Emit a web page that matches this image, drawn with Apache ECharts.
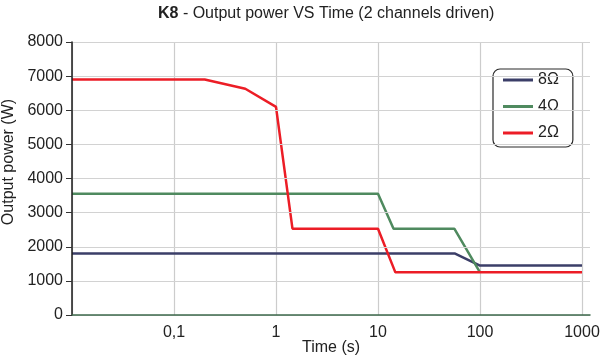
<!DOCTYPE html>
<html>
<head>
<meta charset="utf-8">
<script src="https://cdn.jsdelivr.net/npm/echarts@6/dist/echarts.min.js"></script>
<style>html,body{margin:0;padding:0;background:#fff;}#c{width:600px;height:361px;}</style>
</head>
<body>
<div id="c"></div>
<script>
// Data
const seriesNames = ['8Ω', '4Ω', '2Ω'];
const time8 = [0.01, 57, 100, 1000];
const power8 = [1800, 1800, 1450, 1450];
const time4 = [0.01, 10, 14.2, 56, 100];
const power4 = [3550, 3550, 2530, 2530, 1250];
const time2 = [0.01, 0.2, 0.5, 1, 1.45, 10, 14.8, 1000];
const power2 = [6900, 6900, 6630, 6100, 2530, 2530, 1250, 1250];
const yTicks = [0, 1000, 2000, 3000, 4000, 5000, 6000, 7000, 8000];
const xTicks = [0.01, 0.1, 1, 10, 100, 1000];

const colors = ['#3b3e68', '#4f8a5f', '#ec1d26'];
const pair = (t, p) => t.map((x, i) => [x, p[i]]);
const FONT = 'Liberation Sans, Arial, Helvetica, sans-serif';

const chart = echarts.init(document.getElementById('c'), null, {renderer: 'canvas'});
chart.setOption({
  animation: false,
  backgroundColor: '#fff',
  textStyle: {fontFamily: FONT},
  title: {
    text: '{b|K8}{n| - Output power VS Time (2 channels driven)}',
    left: 158, top: 6, padding: 0,
    textStyle: {
      fontWeight: 'normal', color: '#222',
      rich: {
        b: {fontWeight: 'bold', fontSize: 16, color: '#222', fontFamily: FONT},
        n: {fontWeight: 'normal', fontSize: 16, color: '#222', fontFamily: FONT}
      }
    }
  },
  legend: {
    orient: 'vertical',
    left: 493, top: 69,
    padding: [3, 14, 6, 10],
    itemGap: 10.5,
    itemWidth: 30, itemHeight: 3,
    icon: 'rect',
    borderColor: '#2a2a2a', borderWidth: 1.2, borderRadius: 7,
    backgroundColor: '#fff',
    textStyle: {fontSize: 16, color: '#222', fontFamily: FONT, lineHeight: 16},
    data: seriesNames
  },
  graphic: [{
    type: 'text',
    x: 9, y: 162, rotation: Math.PI / 2,
    style: {text: 'Output power (W)', font: '16px ' + FONT, fill: '#222', align: 'center', verticalAlign: 'middle'}
  }],
  grid: [
    {left: 72, right: 10, top: 42, bottom: 46, containLabel: false, outerBoundsMode: 'none'},
    {left: 72, right: 18, top: 42, bottom: 46, containLabel: false, outerBoundsMode: 'none'}
  ],
  xAxis: [
    {
      gridIndex: 0, type: 'value', min: 0, max: 1, z: 5,
      axisLine: {show: true, lineStyle: {color: '#3e6a4c', width: 1.5}},
      axisTick: {show: false}, axisLabel: {show: false}, splitLine: {show: false},
      name: 'Time (s)', nameLocation: 'middle', nameGap: 25,
      nameTextStyle: {fontSize: 16, color: '#222', fontFamily: FONT}
    },
    {
      gridIndex: 1, type: 'log', logBase: 10, min: xTicks[0], max: xTicks[xTicks.length - 1],
      axisLine: {show: false}, axisTick: {show: false},
      splitLine: {show: true, lineStyle: {color: '#cccccc', width: 1.2}},
      minorSplitLine: {show: false},
      axisLabel: {
        fontSize: 16, color: '#222', margin: 10, fontFamily: FONT,
        showMinLabel: false,
        formatter: v => String(+(+v).toPrecision(6)).replace('.', ',')
      }
    }
  ],
  yAxis: [
    {
      gridIndex: 0, type: 'value', min: yTicks[0], max: yTicks[yTicks.length - 1], interval: 1000, z: 5,
      axisLine: {show: true, lineStyle: {color: '#1a1a1a', width: 1.5}},
      axisTick: {show: true, length: 6, lineStyle: {color: '#333', width: 1}},
      axisLabel: {fontSize: 16, color: '#222', margin: 9, fontFamily: FONT, formatter: v => String(v)},
      splitLine: {show: true, lineStyle: {color: '#d2d2d2', width: 1.2}}
    },
    {
      gridIndex: 1, type: 'value', min: yTicks[0], max: yTicks[yTicks.length - 1], interval: 1000,
      show: false, splitLine: {show: false}
    }
  ],
  series: [
    {name: seriesNames[0], type: 'line', xAxisIndex: 1, yAxisIndex: 1, data: pair(time8, power8),
     symbol: 'none', color: colors[0], lineStyle: {width: 2.5, color: colors[0]}, z: 3},
    {name: seriesNames[1], type: 'line', xAxisIndex: 1, yAxisIndex: 1, data: pair(time4, power4),
     symbol: 'none', color: colors[1], lineStyle: {width: 2.5, color: colors[1]}, z: 3},
    {name: seriesNames[2], type: 'line', xAxisIndex: 1, yAxisIndex: 1, data: pair(time2, power2),
     symbol: 'none', color: colors[2], lineStyle: {width: 2.5, color: colors[2]}, z: 4}
  ]
});
</script>
</body>
</html>
